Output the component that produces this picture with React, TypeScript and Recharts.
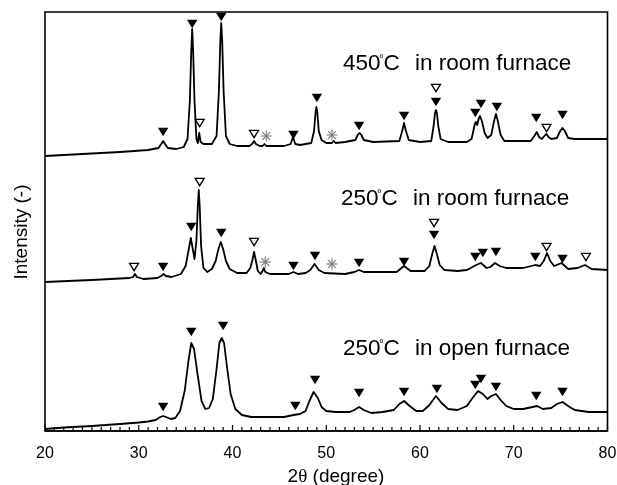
import {
  ComposedChart,
  Line,
  Scatter,
  XAxis,
  YAxis,
  ReferenceArea,
  Customized,
} from 'recharts';

// XRD traces, [2theta, intensity] (arbitrary units, stacked offsets)
const room450: [number, number][] = [
  [20, 275], [24, 277], [28, 279], [31, 281], [32.1, 283], [32.4, 287], [32.6, 290], [32.8, 287],
  [33.1, 283], [34, 282], [34.8, 284], [35.2, 292], [35.45, 330], [35.6, 380], [35.7, 402],
  [35.8, 380], [35.95, 330], [36.15, 292], [36.3, 288], [36.45, 298], [36.6, 289], [36.9, 287],
  [37.8, 287], [38.3, 295], [38.55, 340], [38.7, 390], [38.8, 408], [38.9, 390], [39.05, 340],
  [39.3, 295], [39.7, 287], [40.5, 285], [41.8, 285], [42.1, 287], [42.3, 290], [42.5, 287],
  [42.9, 285], [43.2, 285], [43.4, 287], [43.6, 285], [45.5, 285], [46.2, 287], [46.45, 294],
  [46.7, 287], [47.2, 286], [48.4, 288], [48.7, 300], [48.85, 318], [48.95, 324], [49.05, 318],
  [49.2, 300], [49.5, 291], [50, 288], [50.6, 288], [50.8, 290], [51, 288], [52, 289],
  [53.1, 291], [53.35, 296], [53.55, 298], [53.75, 296], [54, 291], [55, 289], [57.8, 290],
  [58.1, 300], [58.3, 308], [58.5, 300], [58.8, 291], [60, 289], [61.2, 290], [61.45, 305],
  [61.6, 318], [61.7, 321], [61.8, 318], [61.95, 305], [62.2, 292], [63, 289], [65, 289],
  [65.5, 292], [65.85, 307], [65.95, 309], [66.1, 306], [66.25, 312], [66.4, 315], [66.6, 310],
  [66.9, 298], [67.2, 293], [67.6, 296], [67.9, 310], [68.1, 317], [68.3, 310], [68.6, 296],
  [69, 290], [71.8, 290], [72.2, 295], [72.45, 299], [72.7, 294], [73, 292], [73.35, 296],
  [73.5, 297], [73.7, 294], [74, 292], [74.6, 293], [74.95, 300], [75.2, 303], [75.45, 300],
  [75.8, 293], [76.5, 292], [80, 292],
];

const room250: [number, number][] = [
  [20, 149], [25, 151], [29, 153], [29.4, 154], [29.6, 157], [29.8, 154], [30.5, 152], [32, 153],
  [32.4, 155], [32.65, 157], [32.9, 155], [33.5, 154], [34.5, 157], [35, 165], [35.3, 180],
  [35.55, 193], [35.8, 180], [35.95, 172], [36.15, 190], [36.3, 225], [36.4, 241], [36.5, 225],
  [36.65, 185], [36.9, 163], [37.3, 159], [37.8, 162], [38.2, 170], [38.5, 182], [38.75, 189],
  [39, 182], [39.3, 170], [39.7, 162], [40.5, 158], [41.5, 158], [41.9, 163], [42.1, 170],
  [42.3, 179], [42.5, 170], [42.7, 160], [43, 157], [43.2, 160], [43.35, 163], [43.5, 159],
  [44, 157], [46, 157], [46.5, 159], [47, 157], [47.8, 158], [48.3, 161], [48.75, 167],
  [49.2, 161], [49.8, 158], [52, 157], [53, 159], [53.5, 161], [54, 159], [57.5, 159],
  [58.3, 165], [59, 160], [60.5, 160], [61, 165], [61.3, 177], [61.55, 185], [61.8, 177],
  [62.1, 166], [62.6, 161], [64, 160], [65, 161], [65.6, 164], [66, 166], [66.5, 168],
  [67.1, 163], [67.5, 164], [68, 168], [68.5, 165], [69.2, 163], [71, 163], [72.3, 166],
  [72.8, 165], [73.2, 170], [73.55, 178], [73.9, 170], [74.3, 165], [75.1, 168], [75.8, 162],
  [76.8, 163], [77.6, 166], [78.3, 162], [80, 161],
];

const open250: [number, number][] = [
  [20, 2], [22, 3.5], [25, 5], [28, 7], [30, 8.5], [31, 9.5], [31.8, 11], [32.3, 14], [32.6, 15],
  [32.9, 14], [33.4, 12], [33.9, 13], [34.4, 20], [34.9, 40], [35.3, 70], [35.6, 88], [35.9, 82],
  [36.3, 55], [36.7, 30], [37.1, 22], [37.5, 23], [37.9, 32], [38.3, 62], [38.6, 88], [38.85, 93],
  [39.1, 88], [39.4, 65], [39.8, 37], [40.3, 22], [41, 16], [42, 14], [44, 14], [45.5, 14],
  [46.5, 16], [47.2, 17], [47.8, 20], [48.2, 30], [48.65, 39], [49.1, 33], [49.5, 24], [50, 20],
  [51, 19], [52.5, 19], [53, 21], [53.5, 24], [54, 21], [54.8, 18], [56, 19], [57.2, 21],
  [57.8, 27], [58.3, 30], [58.9, 25], [59.6, 20], [60.3, 20], [61, 26], [61.7, 35], [62.3, 28],
  [63, 22], [64, 21], [65, 25], [65.6, 33], [66.2, 40], [66.7, 37], [67.2, 32], [67.6, 35],
  [68.1, 37], [68.6, 31], [69.2, 25], [70, 22], [71, 22], [72, 24], [72.5, 25], [73.1, 22],
  [74, 23], [74.6, 27], [75.2, 29], [75.8, 25], [76.5, 21], [78, 19], [80, 19],
];

// peak markers: f = filled triangle, o = open triangle, s = asterisk
const room450Marks: [number, number, string][] = [
  [32.6, 299, 'f'], [35.7, 407, 'f'], [36.5, 308, 'o'], [38.8, 414, 'f'], [42.3, 297, 'o'],
  [43.6, 295, 's'], [46.5, 296, 'f'], [49, 333, 'f'], [50.6, 296, 's'], [53.5, 305, 'f'],
  [58.3, 315, 'f'], [61.7, 329, 'f'], [61.7, 343, 'o'], [65.9, 318, 'f'], [66.5, 327, 'f'],
  [68.2, 324, 'f'], [72.4, 313, 'f'], [73.5, 303, 'o'], [75.2, 316, 'f'],
];

const room250Marks: [number, number, string][] = [
  [29.5, 164, 'o'], [32.6, 164, 'f'], [35.6, 204, 'f'], [36.5, 249, 'o'], [38.8, 198, 'f'],
  [42.3, 189, 'o'], [43.5, 169, 's'], [46.5, 165, 'f'], [48.8, 175, 'f'], [50.6, 167, 's'],
  [53.5, 168, 'f'], [58.3, 169, 'f'], [61.5, 196, 'f'], [61.5, 208, 'o'], [65.9, 174, 'f'],
  [66.7, 178, 'f'], [68.1, 179, 'f'], [72.3, 174, 'f'], [73.5, 184, 'o'], [75.2, 172, 'f'],
  [77.7, 174, 'o'],
];

const open250Marks: [number, number, string][] = [
  [32.6, 24, 'f'], [35.6, 99, 'f'], [39, 105, 'f'], [46.7, 25, 'f'], [48.8, 51, 'f'],
  [53.5, 38, 'f'], [58.3, 39, 'f'], [61.8, 42, 'f'], [65.9, 46, 'f'], [66.5, 52, 'f'],
  [68.1, 44, 'f'], [72.4, 35, 'f'], [75.2, 39, 'f'],
];

const labels = [
  { temp: '450', text: 'in room furnace', x: 343, y: 70 },
  { temp: '250', text: 'in room furnace', x: 341, y: 205 },
  { temp: '250', text: 'in open furnace', x: 343, y: 355 },
];

const xTicks = Array.from({ length: 61 }, (_, i) => 20 + i);

const FONT = '"Liberation Sans", Arial, sans-serif';

const toPoints = (d: [number, number][]) => d.map(([x, y]) => ({ x, y }));
const toMarks = (d: [number, number, string][]) => d.map(([x, y, kind]) => ({ x, y, kind }));

const MarkShape = (props: any) => {
  const { cx, cy, payload } = props;
  if (cx == null || cy == null) return null;
  if (payload.kind === 's') {
    const r = 5.5;
    const d = r * 0.707;
    return (
      <g stroke="#777" strokeWidth={1.1}>
        <line x1={cx - r} y1={cy} x2={cx + r} y2={cy} />
        <line x1={cx} y1={cy - r} x2={cx} y2={cy + r} />
        <line x1={cx - d} y1={cy - d} x2={cx + d} y2={cy + d} />
        <line x1={cx - d} y1={cy + d} x2={cx + d} y2={cy - d} />
      </g>
    );
  }
  if (payload.kind === 'o') {
    return (
      <path
        d={`M${cx - 4.5},${cy - 3.7}L${cx + 4.5},${cy - 3.7}L${cx},${cy + 3.7}Z`}
        fill="#fff"
        stroke="#000"
        strokeWidth={1.3}
      />
    );
  }
  return <path d={`M${cx - 5.2},${cy - 4.2}L${cx + 5.2},${cy - 4.2}L${cx},${cy + 4.2}Z`} fill="#000" />;
};

const XTick = (props: any) => {
  const { x, y, payload } = props;
  const major = payload.value % 10 === 0;
  return (
    <g>
      <line x1={x} x2={x} y1={y} y2={y - (major ? 6 : 4)} stroke="#000" strokeWidth={1.2} />
      {major && (
        <text x={x} y={y + 27} textAnchor="middle" fontSize={16} fontFamily={FONT} fill="#000">
          {payload.value}
        </text>
      )}
    </g>
  );
};

const Texts = () => (
  <g fontFamily={FONT} fill="#000">
    {labels.map((l, i) => (
      <text key={i} x={l.x} y={l.y} fontSize={22.5}>
        <tspan>{l.temp}</tspan>
        <tspan x={l.x + 36} dy={-7} fontSize={12}>°</tspan>
        <tspan x={l.x + 40.5} dy={7}>C</tspan>
        <tspan x={l.x + 72}>{l.text}</tspan>
      </text>
    ))}
    <text x={336} y={482} textAnchor="middle" fontSize={19}>
      2<tspan fontFamily="'Liberation Serif', serif">θ</tspan> (degree)
    </text>
    <text x={0} y={0} textAnchor="middle" fontSize={19} transform="translate(27,232) rotate(-90)">
      Intensity (-)
    </text>
  </g>
);

const App = () => {
  const series = [room450, room250, open250];
  const marks = [room450Marks, room250Marks, open250Marks];
  return (
    <div style={{ position: 'fixed', left: 0, top: 0 }}>
      <ComposedChart width={617} height={485} margin={{ top: 12, right: 9.5, left: 45, bottom: 0 }}>
        <XAxis
          type="number"
          dataKey="x"
          domain={[20, 80]}
          ticks={xTicks}
          interval={0}
          tickSize={0}
          tickMargin={0}
          tickLine={false}
          tick={<XTick />}
          height={54}
          axisLine={{ stroke: '#000', strokeWidth: 1.6 }}
          allowDataOverflow
        />
        <YAxis type="number" domain={[0, 419]} hide allowDataOverflow />
        <ReferenceArea
          x1={20}
          x2={80}
          y1={0}
          y2={419}
          fill="none"
          stroke="#000"
          strokeWidth={1.6}
          ifOverflow="visible"
        />
        {series.map((s, i) => (
          <Line
            key={`l${i}`}
            data={toPoints(s)}
            dataKey="y"
            type="linear"
            stroke="#000"
            strokeWidth={1.8}
            strokeLinejoin="round"
            dot={false}
            activeDot={false}
            isAnimationActive={false}
          />
        ))}
        {marks.map((m, i) => (
          <Scatter
            key={`m${i}`}
            data={toMarks(m)}
            dataKey="y"
            shape={MarkShape}
            isAnimationActive={false}
          />
        ))}
        <Customized component={Texts} />
      </ComposedChart>
    </div>
  );
};

export default App;
